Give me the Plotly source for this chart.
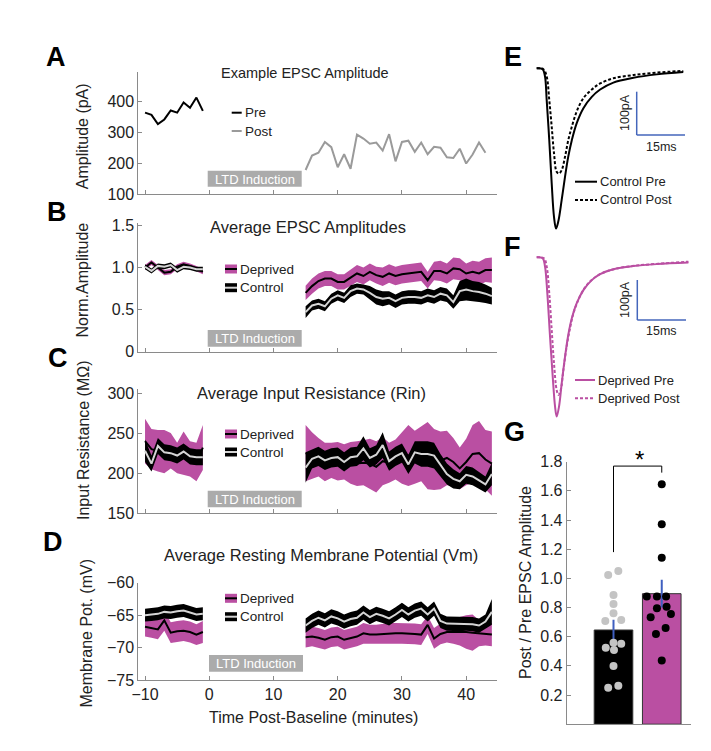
import plotly.graph_objects as go

W, H = 711, 751
OFF = 8  # page body margin compensation
FONT = "Liberation Sans, Arial, sans-serif"
MAG = "#BA4FA2"
CTRL_LINE = "#d4d4d4"
AXC = "#8a8a8a"
TXT = "#222222"

# ---------------- data ----------------
t_pre = list(range(-10, 0))
t_post = list(range(15, 45))
t_post_A = list(range(15, 44))

# A: example EPSC amplitude (pA)
A_pre = [364, 357, 327, 342, 371, 364, 397, 380, 413, 370]
A_post = [178, 225, 234, 269, 252, 187, 229, 182, 293, 280, 263, 267, 241, 294, 206,
          269, 273, 237, 267, 229, 253, 250, 219, 217, 247, 199, 228, 267, 234]

# B: normalized EPSC amplitude (mean, sem)
B_dep_pre = [1.00, 1.06, 1.00, 0.94, 0.95, 1.01, 1.04, 1.02, 0.99, 0.95]
B_dep_pre_sem = [0.03] * 10
B_ctl_pre = [1.01, 0.96, 1.02, 1.01, 1.03, 0.97, 1.01, 1.00, 0.98, 0.98]
B_ctl_pre_sem = [0.03] * 10
B_dep_post = [0.70, 0.78, 0.84, 0.87, 0.87, 0.83, 0.83, 0.88, 0.93, 0.90, 0.95, 0.91, 0.89, 0.93, 0.90,
              0.92, 0.93, 0.94, 0.95, 0.85, 0.96, 0.96, 0.93, 0.99, 0.98, 0.93, 0.95, 0.93, 0.97, 0.97]
B_dep_post_sem = [0.085, 0.09, 0.09, 0.09, 0.09, 0.09, 0.09, 0.10, 0.10, 0.10, 0.10, 0.10, 0.11, 0.11, 0.11,
                  0.11, 0.11, 0.11, 0.11, 0.10, 0.11, 0.12, 0.12, 0.13, 0.13, 0.12, 0.13, 0.14, 0.14, 0.15]
B_ctl_post = [0.47, 0.55, 0.57, 0.54, 0.63, 0.67, 0.64, 0.72, 0.75, 0.74, 0.70, 0.65, 0.63, 0.64, 0.60,
              0.64, 0.65, 0.65, 0.64, 0.67, 0.65, 0.69, 0.67, 0.59, 0.72, 0.74, 0.72, 0.71, 0.69, 0.66]
B_ctl_post_sem = [0.07, 0.06, 0.06, 0.06, 0.06, 0.06, 0.06, 0.07, 0.06, 0.06, 0.08, 0.09, 0.09, 0.08, 0.08,
                  0.08, 0.08, 0.08, 0.08, 0.08, 0.08, 0.08, 0.08, 0.08, 0.12, 0.13, 0.12, 0.12, 0.11, 0.10]

# C: input resistance (MOhm)
C_dep_pre = [240, 230, 228, 227, 228, 219, 225, 218, 214, 232]
C_dep_pre_sem = [28, 25, 26, 27, 22, 19, 27, 22, 24, 28]
C_ctl_pre = [228, 212, 234, 226, 225, 222, 227, 221, 220, 220]
C_ctl_pre_sem = [14, 10, 10, 10, 10, 10, 10, 10, 10, 10]
C_dep_post = [225, 222, 220, 214, 216, 215, 214, 213, 212, 213, 212, 208, 215, 213, 217,
              219, 222, 220, 224, 222, 217, 216, 219, 214, 206, 214, 224, 225, 217, 212]
C_dep_post_sem = [35, 29, 24, 24, 22, 24, 22, 26, 28, 28, 31, 32, 30, 25, 25,
                  32, 38, 33, 34, 42, 38, 36, 34, 30, 26, 29, 36, 40, 37, 40]
C_ctl_post = [207, 218, 221, 216, 219, 220, 214, 220, 221, 231, 219, 223, 235, 215, 221,
              225, 211, 226, 224, 224, 222, 210, 199, 193, 190, 198, 196, 191, 186, 199]
C_ctl_post_sem = [19, 12, 12, 12, 12, 12, 12, 12, 12, 15, 12, 12, 16, 12, 12,
                  12, 12, 14, 16, 16, 16, 14, 13, 12, 10, 11, 11, 10, 10, 14]

# D: resting membrane potential (mV)
D_dep_pre = [-66.8, -67.0, -67.2, -65.8, -67.7, -67.5, -67.4, -67.6, -68.0, -67.6]
D_dep_pre_sem = [1.5, 1.5, 1.5, 1.6, 1.6, 1.6, 1.6, 1.6, 1.6, 1.7]
D_ctl_pre = [-65.0, -64.9, -64.8, -64.5, -64.6, -64.4, -64.3, -64.6, -64.9, -64.8]
D_ctl_pre_sem = [1.0] * 10
D_dep_post = [-68.4, -68.3, -68.5, -68.8, -68.4, -68.3, -68.8, -68.5, -68.3, -67.8, -68.0, -68.0, -67.9, -67.8, -67.8,
              -67.8, -67.8, -67.9, -68.0, -66.5, -68.6, -67.9, -67.6, -67.6, -67.5, -67.6, -67.7, -67.8, -67.9, -68.0]
D_dep_post_sem = [1.6, 1.5, 1.5, 1.5, 1.5, 1.5, 1.5, 1.5, 1.5, 1.6, 1.5, 1.5, 1.6, 1.6, 1.6,
                  1.6, 1.6, 1.6, 1.6, 1.4, 1.6, 1.6, 1.6, 1.8, 2.2, 2.6, 2.8, 2.0, 1.8, 1.8]
D_ctl_post = [-66.6, -65.9, -65.4, -65.8, -65.2, -65.5, -66.0, -65.6, -65.4, -64.6, -65.3, -64.8, -65.1, -65.5, -64.9,
              -64.2, -64.9, -64.3, -64.0, -64.9, -64.0, -65.9, -66.3, -66.3, -66.4, -66.3, -66.4, -66.6, -66.0, -64.5]
D_ctl_post_sem = [1.1] * 29 + [2.0]

# E/F: example EPSC traces (time ms, current pA)
E_pre_t = [0, 1.86, 2.58, 3.1, 3.9, 4.66, 5.37, 6.0, 6.7, 7.76, 8.8, 9.8, 10.9, 12.4, 14.5, 17.1, 19.7, 23.8, 30, 37.3, 45.5]
E_pre_i = [0, -2, -19, -73, -166, -266, -343, -370, -354, -304, -250, -204, -166, -127, -92, -66, -49, -33, -22, -14, -8.5]
E_post_t = [0, 2.07, 3.1, 3.9, 4.66, 5.37, 6.2, 6.93, 7.76, 8.8, 9.8, 10.9, 12.4, 14.5, 17.1, 19.7, 23.8, 30, 37.3, 45.5]
E_post_i = [0, -2, -19, -73, -135, -196, -239, -243, -235, -204, -166, -135, -100, -69, -49, -35, -23, -15.5, -10, -6]
F_pre_t = [0, 1.86, 2.58, 3.3, 4.14, 4.97, 5.7, 6.2, 6.93, 7.76, 8.8, 9.8, 10.9, 12.4, 14.5, 17.1, 19.7, 23.8, 30, 37.3, 47.1]
F_pre_i = [0, -2.5, -23, -90, -198, -298, -373, -398, -373, -315, -248, -194, -152, -115, -82, -57, -42, -30, -22, -17, -13]
F_post_t = [0, 2.27, 3.1, 3.9, 4.66, 5.37, 6.2, 6.73, 7.45, 8.28, 9.3, 10.35, 11.4, 12.9, 15, 17.6, 20.2, 24.3, 30.5, 37.8, 47.1]
F_post_i = [0, -2.5, -23, -90, -182, -265, -332, -344, -332, -282, -223, -177, -140, -107, -75, -53, -40, -29, -21, -16, -11]

# G: post/pre ratio
G_groups = ["Control", "Deprived"]
G_means = [0.646, 0.895]
G_sem = [0.07, 0.095]
G_ctl_pts = [1.023, 1.051, 0.886, 0.824, 0.760, 0.708, 0.715, 0.525, 0.509, 0.552, 0.559, 0.399, 0.250, 0.264]
G_ctl_jit = [-0.11, 0.10, 0.0, 0.0, 0.0, -0.17, 0.16, -0.16, 0.01, 0.16, 0.0, 0.0, -0.11, 0.10]
G_dep_pts = [1.645, 1.371, 1.142, 0.875, 0.875, 0.875, 0.795, 0.806, 0.733, 0.756, 0.660, 0.619, 0.436]
G_dep_jit = [0.0, 0.0, 0.0, -0.31, -0.10, 0.09, -0.10, 0.10, -0.23, 0.19, 0.08, -0.12, 0.0]
G_bracket = [1.18, 1.77, 1.77, 1.725]

# ---------------- helpers ----------------
def px(x):
    return (x - OFF) / W


def py(y):
    return 1 - (y - OFF) / H


fig = go.Figure()


def band(t, m, s, color, ax):
    up = [a + b for a, b in zip(m, s)]
    lo = [a - b for a, b in zip(m, s)]
    fig.add_trace(go.Scatter(x=t + t[::-1], y=up + lo[::-1], fill="toself", fillcolor=color,
                             line=dict(width=0), mode="lines", hoverinfo="skip", showlegend=False,
                             xaxis="x" + ax, yaxis="y" + ax))


def line(t, v, color, ax, width=2, dash=None, shape="linear"):
    fig.add_trace(go.Scatter(x=t, y=v, mode="lines", line=dict(color=color, width=width, dash=dash, shape=shape),
                             hoverinfo="skip", showlegend=False, xaxis="x" + ax, yaxis="y" + ax))


# A
line(t_pre, A_pre, "black", "1")
line(t_post_A, A_post, "#9a9a9a", "1")

# B, C, D
for ax, dp, dps, cp, cps, dq, dqs, cq, cqs in [
    ("2", B_dep_pre, B_dep_pre_sem, B_ctl_pre, B_ctl_pre_sem, B_dep_post, B_dep_post_sem, B_ctl_post, B_ctl_post_sem),
    ("3", C_dep_pre, C_dep_pre_sem, C_ctl_pre, C_ctl_pre_sem, C_dep_post, C_dep_post_sem, C_ctl_post, C_ctl_post_sem),
    ("4", D_dep_pre, D_dep_pre_sem, D_ctl_pre, D_ctl_pre_sem, D_dep_post, D_dep_post_sem, D_ctl_post, D_ctl_post_sem),
]:
    band(t_pre, dp, dps, MAG, ax)
    band(t_post, dq, dqs, MAG, ax)
    band(t_pre, cp, cps, "black", ax)
    band(t_post, cq, cqs, "black", ax)
    line(t_pre, dp, "black", ax)
    line(t_post, dq, "black", ax)
    line(t_pre, cp, CTRL_LINE, ax)
    line(t_post, cq, CTRL_LINE, ax)

# E, F
line(E_pre_t, E_pre_i, "black", "5", width=2, shape="spline")
line(E_post_t, E_post_i, "black", "5", width=2, dash="3px,2px", shape="spline")
line(F_pre_t, F_pre_i, MAG, "6", width=2, shape="spline")
line(F_post_t, F_post_i, MAG, "6", width=2, dash="3px,2px", shape="spline")

# G
fig.add_trace(go.Bar(x=[1, 2], y=G_means, width=0.8, marker=dict(color=["black", MAG], line=dict(color="#333333", width=1)),
                     error_y=dict(type="data", array=G_sem, color="#3f5fc0", thickness=2, width=0),
                     hoverinfo="skip", showlegend=False, xaxis="x7", yaxis="y7"))
fig.add_trace(go.Scatter(x=[1 + j for j in G_ctl_jit], y=G_ctl_pts, mode="markers",
                         marker=dict(color="#c4c4c4", size=8), hoverinfo="skip", showlegend=False,
                         xaxis="x7", yaxis="y7"))
fig.add_trace(go.Scatter(x=[2 + j for j in G_dep_jit], y=G_dep_pts, mode="markers",
                         marker=dict(color="black", size=8), hoverinfo="skip", showlegend=False,
                         xaxis="x7", yaxis="y7"))
fig.add_trace(go.Scatter(x=[1, 1, 2, 2], y=G_bracket, mode="lines", line=dict(color="black", width=1),
                         hoverinfo="skip", showlegend=False, xaxis="x7", yaxis="y7"))

# ---------------- axes ----------------
XR = [-11.05, 44.8]
XD = [px(138.3), px(497)]
tickfont = dict(family=FONT, size=16, color=TXT)


def xaxis_def(anchor, labels):
    return dict(domain=XD, range=XR, anchor=anchor, showline=True, linecolor=AXC, linewidth=1,
                ticks="inside", ticklen=4, tickcolor=AXC, tickvals=[-10, 0, 10, 20, 30, 40],
                showticklabels=labels, showgrid=False, zeroline=False, tickfont=tickfont, automargin=False)


def yaxis_def(anchor, top, bottom, rng, tv, tt=None):
    d = dict(domain=[py(bottom), py(top)], range=rng, anchor=anchor, showline=True, linecolor=AXC, linewidth=1,
             ticks="inside", ticklen=4, tickcolor=AXC, tickvals=tv, showgrid=False, zeroline=False,
             tickfont=tickfont, automargin=False)
    if tt:
        d["ticktext"] = tt
    return d


hidden = dict(visible=False, showgrid=False, zeroline=False, automargin=False)

fig.update_layout(
    width=W, height=H, margin=dict(l=0, r=0, t=0, b=0, pad=0, autoexpand=False),
    paper_bgcolor="white", plot_bgcolor="white", showlegend=False,
    font=dict(family=FONT, color=TXT),
    xaxis=xaxis_def("y", False),
    yaxis=yaxis_def("x", 71.7, 194, [100, 497], [100, 200, 300, 400]),
    xaxis2=xaxis_def("y2", False),
    yaxis2=yaxis_def("x2", 223, 351.7, [0, 1.53], [0, 0.5, 1.0, 1.5], ["0", "0.5", "1.0", "1.5"]),
    xaxis3=xaxis_def("y3", False),
    yaxis3=yaxis_def("x3", 389, 513.3, [150, 305], [150, 200, 250, 300]),
    xaxis4=xaxis_def("y4", True),
    yaxis4=yaxis_def("x4", 582.7, 680, [-75, -60], [-75, -70, -65, -60]),
    xaxis5=dict(domain=[px(530), px(700)], range=[-2.08, 50.7], anchor="y5", **hidden),
    yaxis5=dict(domain=[py(240), py(60)], range=[-396.5, 19.2], anchor="x5", **hidden),
    xaxis6=dict(domain=[px(530), px(700)], range=[-2.08, 50.7], anchor="y6", **hidden),
    yaxis6=dict(domain=[py(425), py(250)], range=[-419, 18.25], anchor="x6", **hidden),
    xaxis7=dict(domain=[px(566.7), px(690.7)], range=[0.03, 2.6], anchor="y7", showline=True, linecolor=AXC,
                showticklabels=False, ticks="", showgrid=False, zeroline=False, automargin=False),
    yaxis7=yaxis_def("x7", 461.7, 724.2, [0, 1.8], [0.2, 0.4, 0.6, 0.8, 1.0, 1.2, 1.4, 1.6, 1.8],
                     ["0.2", "0.4", "0.6", "0.8", "1.0", "1.2", "1.4", "1.6", "1.8"]),
)

# ---------------- annotations & shapes ----------------
ann = []
shapes = []


def text(x, y, s, size=16, color=TXT, angle=0, xanchor="center", bold=False):
    if bold:
        s = "<b>" + s + "</b>"
    ann.append(dict(x=px(x), y=py(y), xref="paper", yref="paper", text=s, showarrow=False,
                    font=dict(family=FONT, size=size, color=color), textangle=angle,
                    xanchor=xanchor, yanchor="middle"))


def rect(x0, y0, x1, y1, color):
    shapes.append(dict(type="rect", xref="paper", yref="paper", x0=px(x0), x1=px(x1), y0=py(y1), y1=py(y0),
                       fillcolor=color, line=dict(width=0), layer="above"))


def hline(x0, x1, y, color, width=2, dash=None):
    shapes.append(dict(type="line", xref="paper", yref="paper", x0=px(x0), x1=px(x1), y0=py(y), y1=py(y),
                       line=dict(color=color, width=width, dash=dash), layer="above"))


def vline(x, y0, y1, color, width=1.5):
    shapes.append(dict(type="line", xref="paper", yref="paper", x0=px(x), x1=px(x), y0=py(y0), y1=py(y1),
                       line=dict(color=color, width=width), layer="above"))


# panel letters
for L, x, y in [("A", 56, 57), ("B", 57, 212), ("C", 58, 358), ("D", 53, 542),
                ("E", 513, 57), ("F", 512, 247), ("G", 515, 432)]:
    text(x, y, L, size=27, color="black", bold=True)

# titles
text(305, 73.3, "Example EPSC Amplitude", size=14.5)
text(307.5, 226.7, "Average EPSC Amplitudes", size=16.5)
text(311.5, 393.3, "Average Input Resistance (Rin)", size=16.5)
text(321, 555, "Average Resting Membrane Potential (Vm)", size=16.5)

# axis labels
text(82.5, 136.7, "Amplitude (pA)", angle=-90)
text(81.5, 280, "Norm.Amplitude", angle=-90)
text(83, 440, "Input Resistance (MΩ)", angle=-90)
text(86, 633.5, "Membrane Pot. (mV)", angle=-90)
text(313, 717, "Time Post-Baseline (minutes)")
text(525, 583, "Post / Pre EPSC Amplitude", angle=-90)

# LTD boxes
for (x0, y0, x1, y1) in [(207.7, 170.7, 301.7, 186.7), (207.7, 330, 301.7, 346.7),
                         (207.7, 490.7, 301.7, 507.3), (209, 655, 303, 671.7)]:
    rect(x0, y0, x1, y1, "#ababab")
    text((x0 + x1) / 2, (y0 + y1) / 2 + 0.5, "LTD Induction", size=13, color="white")

# A legend
hline(231.7, 241.7, 112.7, "black")
text(243, 112.7, "Pre", size=13.5, xanchor="left")
hline(231.7, 241.7, 131, "#9a9a9a")
text(243, 131, "Post", size=13.5, xanchor="left")

# B-D legends
for yd, yc in [(269, 287.7), (434, 452), (598.3, 616.7)]:
    rect(225, yd - 4.5, 237, yd + 4.5, MAG)
    hline(225, 237, yd, "black", 2)
    text(238, yd, "Deprived", size=13.5, xanchor="left")
    rect(225, yc - 4.5, 237, yc + 4.5, "black")
    hline(225, 237, yc, CTRL_LINE, 2)
    text(238, yc, "Control", size=13.5, xanchor="left")

# E/F legends
hline(575, 597, 181.7, "black", 2)
text(598, 181.7, "Control Pre", size=13, xanchor="left")
hline(575, 597, 200, "black", 2, dash="3px,2px")
text(598, 200, "Control Post", size=13, xanchor="left")
hline(575, 595, 380, MAG, 2)
text(596, 380, "Deprived Pre", size=13, xanchor="left")
hline(575, 595, 398.3, MAG, 2, dash="3px,2px")
text(596, 398.3, "Deprived Post", size=13, xanchor="left")

# scale bars
SB = "#4466bb"
vline(636.7, 91.7, 135, SB)
hline(636.7, 685, 135, SB, 1.5)
text(625, 113, "100pA", size=12.5, angle=-90)
text(661, 147, "15ms", size=12.5)
vline(637.3, 280, 320, SB)
hline(637.3, 686, 320, SB, 1.5)
text(625, 300, "100pA", size=12.5, angle=-90)
text(661, 331, "15ms", size=12.5)

# significance star
text(639, 459, "*", size=24, color="black")

fig.update_layout(annotations=ann, shapes=shapes)
fig.write_html("out.html")
